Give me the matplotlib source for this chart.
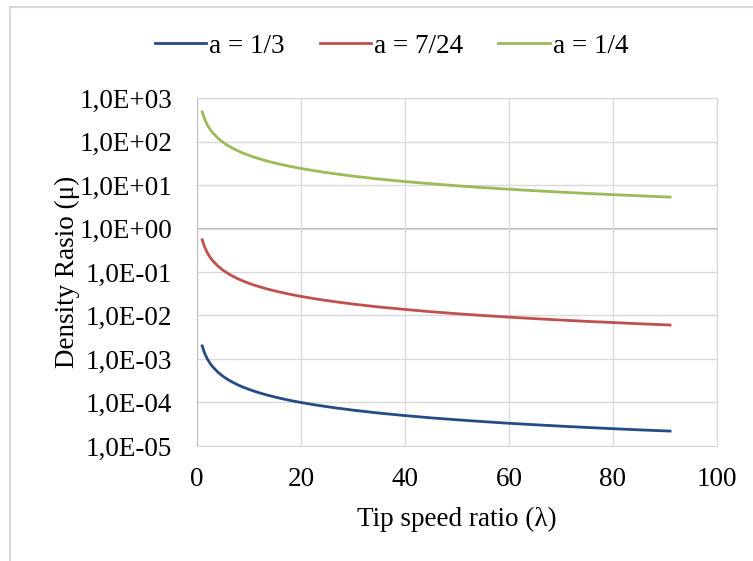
import matplotlib.pyplot as plt
from matplotlib.patches import Rectangle

plt.rcParams['font.family'] = ['Liberation Serif', 'DejaVu Serif']

# Tip speed ratio values
x = [1, 1.5, 2, 2.5, 3, 4, 5, 6, 7, 8, 9, 10, 11, 12, 13, 14, 16, 18, 20,
     23, 26, 30, 35, 40, 45, 50, 55, 60, 65, 70, 75, 80, 85, 91]

mu_a13 = [2.0e-3, 1.33e-3, 1.0e-3, 8.0e-4, 6.67e-4, 5.0e-4, 4.0e-4, 3.33e-4,
          2.86e-4, 2.5e-4, 2.22e-4, 2.0e-4, 1.82e-4, 1.67e-4, 1.54e-4,
          1.43e-4, 1.25e-4, 1.11e-4, 1.0e-4, 8.7e-5, 7.7e-5, 6.67e-5, 5.71e-5,
          5.0e-5, 4.44e-5, 4.0e-5, 3.64e-5, 3.33e-5, 3.08e-5, 2.86e-5,
          2.67e-5, 2.5e-5, 2.35e-5, 2.2e-5]
mu_a724 = [0.55, 0.367, 0.275, 0.22, 0.183, 0.1375, 0.11, 0.0917, 0.0786,
           0.0688, 0.0611, 0.055, 0.05, 0.0458, 0.0423, 0.0393, 0.0344,
           0.0306, 0.0275, 0.0239, 0.0212, 0.0183, 0.0157, 0.0138, 0.0122,
           0.011, 0.01, 0.00917, 0.00846, 0.00786, 0.00733, 0.00688,
           0.00647, 0.00604]
mu_a14 = [480, 320, 240, 192, 160, 120, 96, 80, 68.6, 60, 53.3, 48, 43.6,
          40, 36.9, 34.3, 30, 26.7, 24, 20.9, 18.5, 16, 13.7, 12, 10.7, 9.6,
          8.73, 8.0, 7.38, 6.86, 6.4, 6.0, 5.65, 5.27]

yticks = [1e-5, 1e-4, 1e-3, 1e-2, 1e-1, 1e0, 1e1, 1e2, 1e3]
ytick_labels = ['1,0E-05', '1,0E-04', '1,0E-03', '1,0E-02', '1,0E-01',
                '1,0E+00', '1,0E+01', '1,0E+02', '1,0E+03']
xticks = [0, 20, 40, 60, 80, 100]

fig = plt.figure(figsize=(7.53, 5.61), dpi=100)
ax = fig.add_axes([0.2616, 0.205, 0.952 - 0.2616, 0.8253 - 0.205])

# outer chart frame (cut off at right and bottom like the source)
fig.patches.append(Rectangle((10 / 753, -0.1), 1.2, 1 - 7 / 561 + 0.1,
                             transform=fig.transFigure, fill=False,
                             edgecolor='#D9D9D9', linewidth=1.5))

ax.plot(x, mu_a13, color='#234C85', lw=2, label='a = 1/3')
ax.plot(x, mu_a724, color='#C0504D', lw=2, label='a = 7/24')
ax.plot(x, mu_a14, color='#9BBB59', lw=2, label='a = 1/4')

ax.set_yscale('log')
ax.set_ylim(1e-5, 1e3)
ax.set_xlim(0, 100)
ax.set_yticks(yticks)
ax.set_yticklabels(ytick_labels)
ax.minorticks_off()
ax.set_xticks(xticks)

ax.grid(True, color='#D9D9D9', lw=1)
ax.axhline(1, color='#A6A6A6', lw=1.2, zorder=1.5)
for s in ax.spines.values():
    s.set_color('#D9D9D9')
ax.spines['left'].set_color('#BFBFBF')
ax.tick_params(length=0, labelsize=19.5, pad=15)
ax.tick_params(axis='y', pad=18)

ax.set_xlabel('Tip speed ratio (λ)', fontsize=19.5, labelpad=11)
ax.set_ylabel('Density Rasio (μ)', fontsize=19.5, labelpad=-1)

fig.legend(loc='center', bbox_to_anchor=(0.52, 0.918), ncol=3, frameon=False,
           fontsize=19.5, handlelength=1.9, handletextpad=0.1, columnspacing=1.3)

fig.savefig('out.png', dpi=100)
